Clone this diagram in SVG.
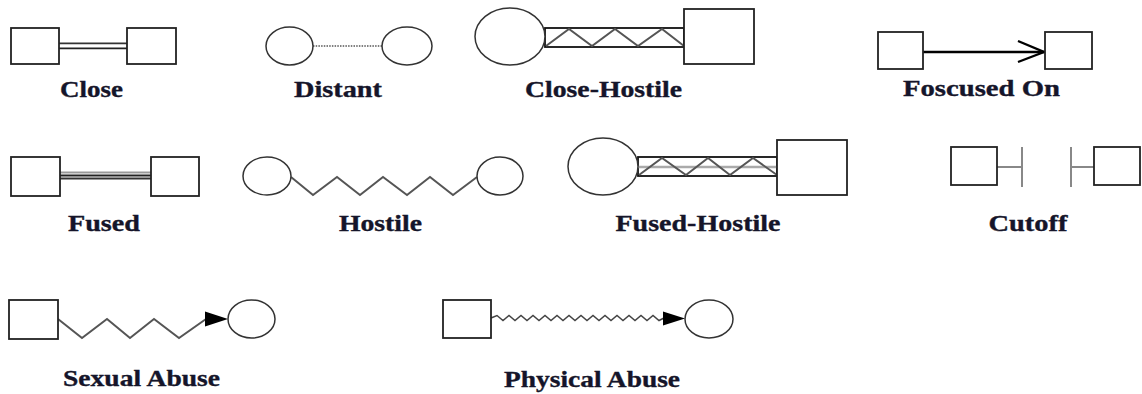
<svg xmlns="http://www.w3.org/2000/svg" width="1142" height="394" viewBox="0 0 1142 394">
<style>
.box{fill:#fff;stroke:#222;stroke-width:1.8}
.circ{fill:#fff;stroke:#333;stroke-width:1.5}
.lbl{font-family:"Liberation Serif","Times New Roman",serif;font-weight:bold;font-size:23px;fill:#15152a;text-anchor:middle;stroke:#15152a;stroke-width:0.35}
.zig{fill:none;stroke:#555;stroke-width:2;stroke-linejoin:miter}
.band{fill:none;stroke:#111;stroke-width:1.8}
.head{fill:#000}
.cut{stroke:#888;stroke-width:2}
</style>
<rect width="1142" height="394" fill="#fff"/>

<g id="connectors">
<!-- Close -->
<line x1="59" y1="43.3" x2="127" y2="43.3" stroke="#333" stroke-width="1.7"/>
<line x1="59" y1="48.3" x2="127" y2="48.3" stroke="#222" stroke-width="1.7"/>
<!-- Distant -->
<line x1="313" y1="46" x2="382" y2="46" stroke="#555" stroke-width="1.5" stroke-dasharray="1.5 1.2"/>
<!-- Close-Hostile -->
<rect class="band" x="545" y="28" width="139" height="19"/>
<polyline class="zig" points="546,46 569,29 592,46 615,29 638,46 662,29 684,46"/>
<!-- Focused On -->
<line x1="923" y1="52" x2="1044" y2="52" stroke="#000" stroke-width="2.6"/>
<polyline points="1018,41 1044,52 1018,62" fill="none" stroke="#000" stroke-width="2.4"/>
<!-- Fused -->
<line x1="60" y1="172.5" x2="151" y2="172.5" stroke="#999" stroke-width="1.8"/>
<line x1="60" y1="175.5" x2="151" y2="175.5" stroke="#222" stroke-width="1.8"/>
<line x1="60" y1="178.5" x2="151" y2="178.5" stroke="#333" stroke-width="1.8"/>
<!-- Hostile -->
<polyline class="zig" points="291,177 313,195 337,177 360,195 383,177 407,195 430,177 453,195 477,177"/>
<!-- Fused-Hostile -->
<rect class="band" x="638" y="157" width="139" height="19"/>
<line x1="638" y1="167" x2="782" y2="167" stroke="#aaa" stroke-width="2.5"/>
<polyline class="zig" points="639,175 662,158 686,175 708,158 730,175 753,158 777,175"/>
<!-- Cutoff -->
<line class="cut" x1="997" y1="167" x2="1022" y2="167"/>
<line class="cut" x1="1022" y1="147" x2="1022" y2="187"/>
<line class="cut" x1="1071" y1="147" x2="1071" y2="187"/>
<line class="cut" x1="1071" y1="167" x2="1094" y2="167"/>
<!-- Sexual Abuse -->
<polyline class="zig" points="58,319 82,338 107,319 130,338 154,319 179,338 206,319"/>
<path class="head" d="M205,311.5 L228,319 L205,326.5 z"/>
<!-- Physical Abuse -->
<polyline fill="none" stroke="#444" stroke-width="1.5" points="491,318 497,315.5 503,320.5 509,315.5 515,320.5 521,315.5 527,320.5 533,315.5 539,320.5 545,315.5 551,320.5 557,315.5 563,320.5 569,315.5 575,320.5 581,315.5 587,320.5 593,315.5 599,320.5 605,315.5 611,320.5 617,315.5 623,320.5 629,315.5 635,320.5 641,315.5 647,320.5 653,315.5 659,320.5 664,318"/>
<path class="head" d="M663,311.5 L685,318.5 L663,325.5 z"/>
</g>

<g id="close-a"><rect class="box" x="11" y="28" width="48" height="36"/></g>
<g id="close-b"><rect class="box" x="127" y="28" width="49" height="36"/></g>
<g id="close-label"><text class="lbl" x="91.5" y="97" textLength="63" lengthAdjust="spacingAndGlyphs">Close</text></g>

<g id="distant-a"><ellipse class="circ" cx="289.5" cy="46" rx="23.5" ry="19"/></g>
<g id="distant-b"><ellipse class="circ" cx="407" cy="46" rx="25" ry="19"/></g>
<g id="distant-label"><text class="lbl" x="338" y="97" textLength="88" lengthAdjust="spacingAndGlyphs">Distant</text></g>

<g id="closehostile-a"><ellipse class="circ" cx="510" cy="36.5" rx="35" ry="28.5"/></g>
<g id="closehostile-b"><rect class="box" x="684" y="9" width="70" height="55"/></g>
<g id="closehostile-label"><text class="lbl" x="603.5" y="97" textLength="157" lengthAdjust="spacingAndGlyphs">Close-Hostile</text></g>

<g id="focused-a"><rect class="box" x="878" y="32" width="45" height="37"/></g>
<g id="focused-b"><rect class="box" x="1045" y="32" width="47" height="37"/></g>
<g id="focused-label"><text class="lbl" x="981.5" y="96" textLength="157" lengthAdjust="spacingAndGlyphs">Foscused On</text></g>

<g id="fused-a"><rect class="box" x="11" y="157" width="49" height="39"/></g>
<g id="fused-b"><rect class="box" x="151" y="157" width="48" height="39"/></g>
<g id="fused-label"><text class="lbl" x="104" y="231" textLength="72" lengthAdjust="spacingAndGlyphs">Fused</text></g>

<g id="hostile-a"><ellipse class="circ" cx="267" cy="176" rx="24" ry="19"/></g>
<g id="hostile-b"><ellipse class="circ" cx="500" cy="176" rx="23" ry="19"/></g>
<g id="hostile-label"><text class="lbl" x="380.5" y="231" textLength="83" lengthAdjust="spacingAndGlyphs">Hostile</text></g>

<g id="fusedhostile-a"><ellipse class="circ" cx="603" cy="166.5" rx="35" ry="28.5"/></g>
<g id="fusedhostile-b"><rect class="box" x="777" y="140" width="70" height="55"/></g>
<g id="fusedhostile-label"><text class="lbl" x="698" y="231" textLength="165" lengthAdjust="spacingAndGlyphs">Fused-Hostile</text></g>

<g id="cutoff-a"><rect class="box" x="951" y="147" width="46" height="38"/></g>
<g id="cutoff-b"><rect class="box" x="1094" y="147" width="46" height="38"/></g>
<g id="cutoff-label"><text class="lbl" x="1028" y="231" textLength="79" lengthAdjust="spacingAndGlyphs">Cutoff</text></g>

<g id="sexual-a"><rect class="box" x="9" y="300" width="49" height="39"/></g>
<g id="sexual-b"><ellipse class="circ" cx="251.5" cy="319" rx="23.5" ry="19"/></g>
<g id="sexual-label"><text class="lbl" x="141.5" y="386" textLength="157" lengthAdjust="spacingAndGlyphs">Sexual Abuse</text></g>

<g id="physical-a"><rect class="box" x="443" y="300" width="48" height="38"/></g>
<g id="physical-b"><ellipse class="circ" cx="709" cy="319" rx="24" ry="19"/></g>
<g id="physical-label"><text class="lbl" x="592" y="387" textLength="176" lengthAdjust="spacingAndGlyphs">Physical Abuse</text></g>
</svg>
